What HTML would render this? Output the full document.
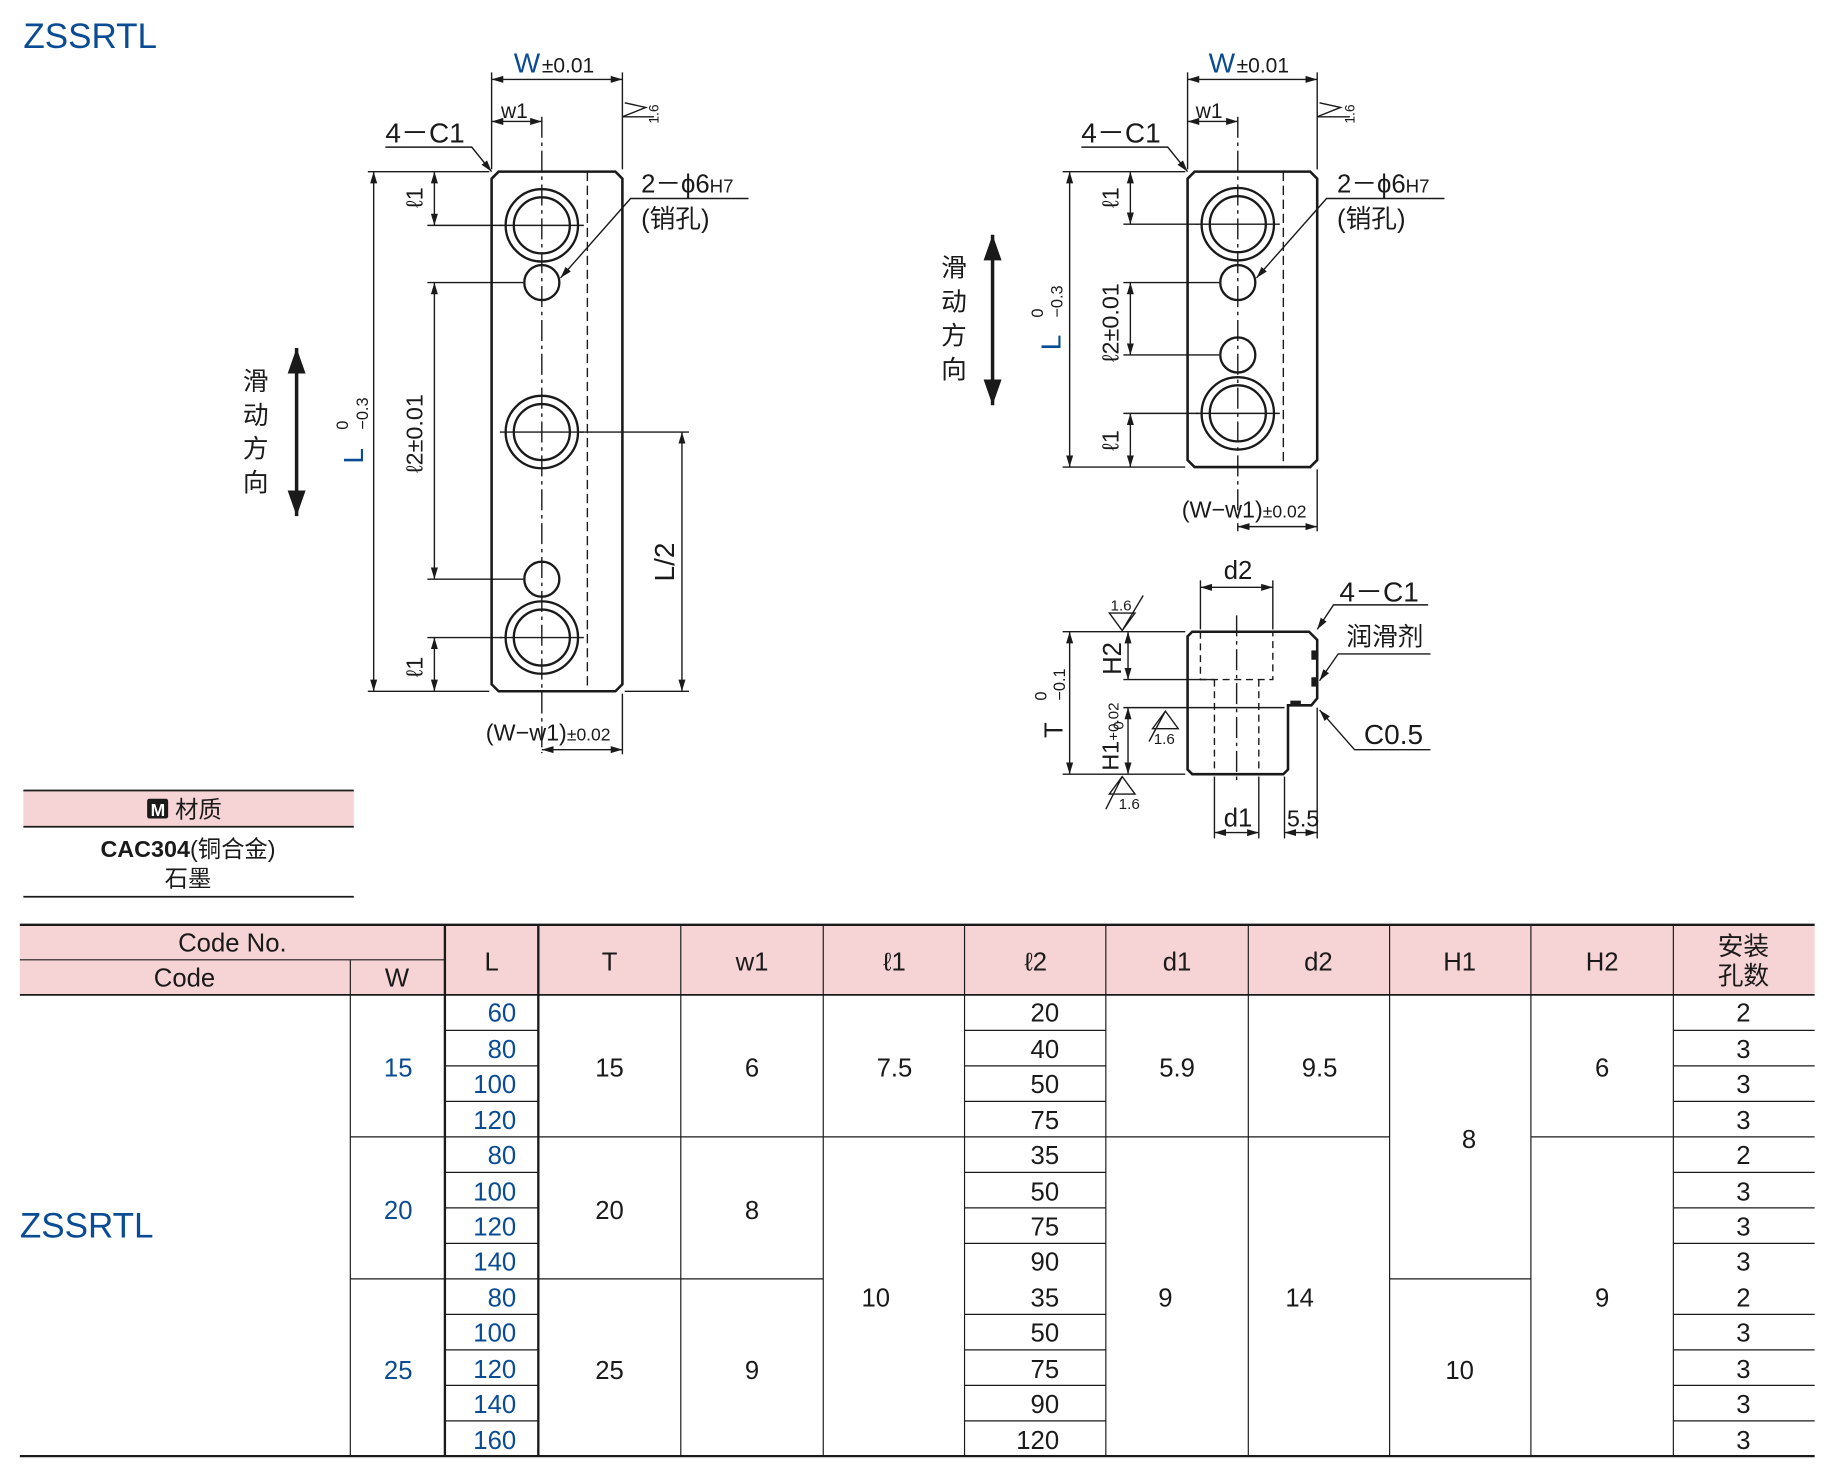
<!DOCTYPE html>
<html><head><meta charset="utf-8"><style>
html,body{margin:0;padding:0;background:#fff}
svg{display:block}
text{font-family:"Liberation Sans","Noto Sans CJK SC",sans-serif;fill:#1a1a1a}
.b, .b text{fill:#0a4c94}
</style></head><body>
<svg width="1831" height="1472" viewBox="0 0 1568 1260.6" preserveAspectRatio="none" xmlns="http://www.w3.org/2000/svg">
<defs>
<marker id="a" viewBox="0 0 10 10" refX="10" refY="5" markerWidth="10" markerHeight="10" orient="auto-start-reverse" markerUnits="userSpaceOnUse"><path d="M0,2 L10,5 L0,8z" fill="#1a1a1a"/></marker>
<marker id="big" viewBox="0 0 10 10" refX="10" refY="5" markerWidth="22" markerHeight="22" orient="auto-start-reverse" markerUnits="userSpaceOnUse"><path d="M0,1.5 L10,5 L0,8.5z" fill="#1a1a1a"/></marker>
</defs>
<text x="20" y="41" font-size="30" class="b">ZSSRTL</text>

<!-- LEFT DRAWING -->
<g stroke="#1a1a1a" fill="none" stroke-width="1.2">
<path d="M427,147 H527 L533,153 V586 L527,592 H427 L421,586 V153 Z" stroke-width="2.2"/>
<line x1="503" y1="147" x2="503" y2="592" stroke-dasharray="8,4"/>
<line x1="464" y1="100" x2="464" y2="645" stroke-dasharray="18,4,3,4"/>
<circle cx="464" cy="193" r="31" stroke-width="2"/><circle cx="464" cy="193" r="24" stroke-width="2"/>
<circle cx="464" cy="370" r="31" stroke-width="2"/><circle cx="464" cy="370" r="24" stroke-width="2"/>
<circle cx="464" cy="546" r="31" stroke-width="2"/><circle cx="464" cy="546" r="24" stroke-width="2"/>
<circle cx="464" cy="242" r="15" stroke-width="2"/><circle cx="464" cy="496" r="15" stroke-width="2"/>
<line x1="428" y1="193" x2="500" y2="193"/><line x1="428" y1="370" x2="500" y2="370"/><line x1="428" y1="546" x2="500" y2="546"/>
<line x1="421" y1="62" x2="421" y2="145"/><line x1="533" y1="62" x2="533" y2="145"/>
<line x1="421" y1="68" x2="533" y2="68" marker-start="url(#a)" marker-end="url(#a)"/>
<line x1="421" y1="104" x2="464" y2="104" marker-start="url(#a)" marker-end="url(#a)"/>
<line x1="315" y1="147" x2="419" y2="147"/><line x1="315" y1="592" x2="419" y2="592"/>
<line x1="320" y1="147" x2="320" y2="592" marker-start="url(#a)" marker-end="url(#a)"/>
<line x1="366" y1="193" x2="430" y2="193"/><line x1="366" y1="242" x2="448" y2="242"/>
<line x1="372" y1="147" x2="372" y2="193" marker-start="url(#a)" marker-end="url(#a)"/>
<line x1="372" y1="242" x2="372" y2="496" marker-start="url(#a)" marker-end="url(#a)"/>
<line x1="366" y1="496" x2="448" y2="496"/><line x1="366" y1="546" x2="430" y2="546"/>
<line x1="372" y1="546" x2="372" y2="592" marker-start="url(#a)" marker-end="url(#a)"/>
<line x1="497" y1="370" x2="590" y2="370"/>
<line x1="584" y1="370" x2="584" y2="592" marker-start="url(#a)" marker-end="url(#a)"/>
<line x1="535" y1="592" x2="590" y2="592"/>
<line x1="533" y1="594" x2="533" y2="646"/>
<line x1="464" y1="642" x2="533" y2="642" marker-start="url(#a)" marker-end="url(#a)"/>
<polyline points="330,126 404,126 421,147" marker-end="url(#a)"/>
<polyline points="641,170 540,170 480,238" marker-end="url(#a)"/>
<path d="M533,100 l20,-8 l-18,-4" /><line x1="533" y1="100" x2="560" y2="100"/>
<line x1="254" y1="298" x2="254" y2="442" stroke-width="3" marker-start="url(#big)" marker-end="url(#big)"/>
</g>
<text x="440" y="62" font-size="24" class="b">W</text><text x="464" y="62" font-size="18">±0.01</text>
<text x="429" y="101" font-size="18">w1</text>
<text x="330" y="122" font-size="24">4－C1</text>
<text x="549" y="165" font-size="22">2－ϕ6<tspan font-size="16">H7</tspan></text>
<text x="549" y="195" font-size="22">(销孔)</text>
<text x="564" y="106" font-size="12" transform="rotate(-90 564 106)">1.6</text>
<g font-size="20">
<text transform="translate(362,178) rotate(-90)">ℓ1</text>
<text transform="translate(362,405) rotate(-90)">ℓ2±0.01</text>
<text transform="translate(362,580) rotate(-90)">ℓ1</text>
<text transform="translate(577,498) rotate(-90)" font-size="24">L/2</text>
<text transform="translate(311,397) rotate(-90)" class="b" font-size="24">L</text>
<text transform="translate(298,368) rotate(-90)" font-size="14">0</text>
<text transform="translate(315,368) rotate(-90)" font-size="14">−0.3</text>
</g>
<text x="416" y="634" font-size="20">(W−w1)<tspan font-size="15">±0.02</tspan></text>
<g font-size="22"><text x="208" y="334">滑</text><text x="208" y="363">动</text><text x="208" y="392">方</text><text x="208" y="421">向</text></g>

<!-- RIGHT TOP DRAWING -->
<g stroke="#1a1a1a" fill="none" stroke-width="1.2">
<path d="M1023,147 H1122 L1128,153 V394 L1122,400 H1023 L1017,394 V153 Z" stroke-width="2.2"/>
<line x1="1099" y1="147" x2="1099" y2="400" stroke-dasharray="8,4"/>
<line x1="1060" y1="100" x2="1060" y2="455" stroke-dasharray="18,4,3,4"/>
<circle cx="1060" cy="192" r="31" stroke-width="2"/><circle cx="1060" cy="192" r="24" stroke-width="2"/>
<circle cx="1060" cy="354" r="31" stroke-width="2"/><circle cx="1060" cy="354" r="24" stroke-width="2"/>
<circle cx="1060" cy="242" r="15" stroke-width="2"/><circle cx="1060" cy="304" r="15" stroke-width="2"/>
<line x1="1024" y1="192" x2="1096" y2="192"/><line x1="1024" y1="354" x2="1096" y2="354"/>
<line x1="1017" y1="62" x2="1017" y2="145"/><line x1="1128" y1="62" x2="1128" y2="145"/>
<line x1="1017" y1="68" x2="1128" y2="68" marker-start="url(#a)" marker-end="url(#a)"/>
<line x1="1017" y1="104" x2="1060" y2="104" marker-start="url(#a)" marker-end="url(#a)"/>
<line x1="910" y1="147" x2="1015" y2="147"/><line x1="910" y1="400" x2="1015" y2="400"/>
<line x1="916" y1="147" x2="916" y2="400" marker-start="url(#a)" marker-end="url(#a)"/>
<line x1="962" y1="192" x2="1026" y2="192"/><line x1="962" y1="242" x2="1044" y2="242"/>
<line x1="962" y1="304" x2="1044" y2="304"/><line x1="962" y1="354" x2="1026" y2="354"/>
<line x1="968" y1="147" x2="968" y2="192" marker-start="url(#a)" marker-end="url(#a)"/>
<line x1="968" y1="242" x2="968" y2="304" marker-start="url(#a)" marker-end="url(#a)"/>
<line x1="968" y1="354" x2="968" y2="400" marker-start="url(#a)" marker-end="url(#a)"/>
<line x1="1128" y1="402" x2="1128" y2="455"/>
<line x1="1060" y1="451" x2="1128" y2="451" marker-start="url(#a)" marker-end="url(#a)"/>
<polyline points="926,126 1000,126 1017,147" marker-end="url(#a)"/>
<polyline points="1237,170 1136,170 1076,238" marker-end="url(#a)"/>
<path d="M1128,100 l20,-8 l-18,-4" /><line x1="1128" y1="100" x2="1156" y2="100"/>
<line x1="850" y1="201" x2="850" y2="347" stroke-width="3" marker-start="url(#big)" marker-end="url(#big)"/>
</g>
<text x="1035" y="62" font-size="24" class="b">W</text><text x="1059" y="62" font-size="18">±0.01</text>
<text x="1024" y="101" font-size="18">w1</text>
<text x="926" y="122" font-size="24">4－C1</text>
<text x="1145" y="165" font-size="22">2－ϕ6<tspan font-size="16">H7</tspan></text>
<text x="1145" y="195" font-size="22">(销孔)</text>
<text x="1160" y="106" font-size="12" transform="rotate(-90 1160 106)">1.6</text>
<g font-size="20">
<text transform="translate(958,178) rotate(-90)">ℓ1</text>
<text transform="translate(958,310) rotate(-90)">ℓ2±0.01</text>
<text transform="translate(958,386) rotate(-90)">ℓ1</text>
<text transform="translate(908,300) rotate(-90)" class="b" font-size="24">L</text>
<text transform="translate(893,272) rotate(-90)" font-size="14">0</text>
<text transform="translate(910,272) rotate(-90)" font-size="14">−0.3</text>
</g>
<text x="1012" y="443" font-size="20">(W−w1)<tspan font-size="15">±0.02</tspan></text>
<g font-size="22"><text x="806" y="237">滑</text><text x="806" y="266">动</text><text x="806" y="295">方</text><text x="806" y="324">向</text></g>

<!-- SIDE VIEW -->
<g stroke="#1a1a1a" fill="none" stroke-width="1.2">
<path d="M1021,541 H1121 L1128,548 V598 L1123,604 H1103 V659 L1099,663 H1021 L1017,659 V545 Z" stroke-width="2.2"/>
<path d="M1028,541 V582 H1090 V541" stroke-dasharray="6,4"/>
<path d="M1040,582 V663 M1078,582 V663" stroke-dasharray="6,4"/>
<line x1="1059" y1="527" x2="1059" y2="668" stroke-dasharray="18,4,3,4"/>
<line x1="910" y1="541" x2="1015" y2="541"/><line x1="962" y1="582" x2="1040" y2="582"/>
<line x1="962" y1="606" x2="1100" y2="606"/><line x1="910" y1="663" x2="1015" y2="663"/>
<line x1="916" y1="541" x2="916" y2="663" marker-start="url(#a)" marker-end="url(#a)"/>
<line x1="966" y1="541" x2="966" y2="582" marker-start="url(#a)" marker-end="url(#a)"/>
<line x1="966" y1="606" x2="966" y2="663" marker-start="url(#a)" marker-end="url(#a)"/>
<line x1="1028" y1="497" x2="1028" y2="539"/><line x1="1090" y1="497" x2="1090" y2="539"/>
<line x1="1028" y1="503" x2="1090" y2="503" marker-start="url(#a)" marker-end="url(#a)"/>
<line x1="1040" y1="665" x2="1040" y2="718"/><line x1="1078" y1="665" x2="1078" y2="718"/>
<line x1="1040" y1="713" x2="1078" y2="713" marker-start="url(#a)" marker-end="url(#a)"/>
<line x1="1100" y1="665" x2="1100" y2="718"/><line x1="1128" y1="606" x2="1128" y2="718"/>
<line x1="1100" y1="713" x2="1128" y2="713" marker-start="url(#a)" marker-end="url(#a)"/>
<polyline points="1223,518 1142,518 1128,539" marker-end="url(#a)"/>
<polyline points="1225,560 1146,560 1130,583" marker-end="url(#a)"/>
<polyline points="1225,642 1160,642 1130,608" marker-end="url(#a)"/>
<path d="M950,525 h22 l-11,15 z M961,540 l18,-30"/>
<path d="M987,624 h22 l-11,-15 z M998,609 l-14,26"/>
<path d="M950,680 h22 l-11,-15 z M961,665 l-14,28"/>
</g>
<g fill="#1a1a1a"><rect x="1123" y="557" width="5" height="8"/><rect x="1123" y="580" width="5" height="8"/><rect x="1105" y="600" width="9" height="5"/></g>
<text x="1048" y="496" font-size="22">d2</text>
<text x="1048" y="708" font-size="22">d1</text>
<text x="1102" y="708" font-size="20">5.5</text>
<text x="1147" y="515" font-size="24">4－C1</text>
<text x="1153" y="553" font-size="22">润滑剂</text>
<text x="1168" y="637" font-size="24">C0.5</text>
<text x="951" y="523" font-size="13">1.6</text>
<text x="988" y="637" font-size="13">1.6</text>
<text x="958" y="693" font-size="13">1.6</text>
<text transform="translate(960,578) rotate(-90)" font-size="22">H2</text>
<text transform="translate(958,660) rotate(-90)" font-size="20">H1<tspan font-size="13">+0.02</tspan></text>
<text transform="translate(962,625) rotate(-90)" font-size="13">0</text>
<text transform="translate(910,632) rotate(-90)" font-size="22">T</text>
<text transform="translate(896,600) rotate(-90)" font-size="14">0</text>
<text transform="translate(912,600) rotate(-90)" font-size="14">−0.1</text>

<!-- MATERIAL -->
<rect x="20" y="677" width="283" height="31" fill="#f6d3d5"/>
<line x1="20" y1="677" x2="303" y2="677" stroke="#1a1a1a" stroke-width="1.5"/>
<line x1="20" y1="708" x2="303" y2="708" stroke="#1a1a1a" stroke-width="1.5"/>
<line x1="20" y1="768" x2="303" y2="768" stroke="#1a1a1a" stroke-width="1.5"/>
<rect x="126" y="684" width="18" height="17" rx="2" fill="#1a1a1a"/>
<text x="129" y="699" font-size="15" style="fill:#fff" font-weight="bold">M</text>
<text x="150" y="700" font-size="20">材质</text>
<text x="161" y="734" font-size="20" text-anchor="middle"><tspan font-weight="bold">CAC304</tspan>(铜合金)</text>
<text x="161" y="759" font-size="20" text-anchor="middle">石墨</text>

<!-- TABLE -->
<rect x="17" y="792" width="1537" height="60" fill="#f6d3d5"/>
<g stroke="#1a1a1a" stroke-width="1">
<line x1="17" y1="792" x2="1554" y2="792" stroke-width="2"/>
<line x1="17" y1="852" x2="1554" y2="852" stroke-width="1.5"/>
<line x1="17" y1="1247" x2="1554" y2="1247" stroke-width="2"/>
<line x1="17" y1="822" x2="381" y2="822"/>
<line x1="300" y1="822" x2="300" y2="1247"/>
<line x1="381" y1="792" x2="381" y2="1247" stroke-width="2"/>
<line x1="461" y1="792" x2="461" y2="1247" stroke-width="2"/>
<line x1="583" y1="792" x2="583" y2="1247"/><line x1="705" y1="792" x2="705" y2="1247"/>
<line x1="826" y1="792" x2="826" y2="1247"/><line x1="947" y1="792" x2="947" y2="1247"/>
<line x1="1069" y1="792" x2="1069" y2="1247"/><line x1="1190" y1="792" x2="1190" y2="1247"/>
<line x1="1311" y1="792" x2="1311" y2="1247"/><line x1="1433" y1="792" x2="1433" y2="1247"/>
<path d="M381,882.4h80M381,912.8h80M381,943.2h80M381,1004h80M381,1034.4h80M381,1064.8h80M381,1125.6h80M381,1156h80M381,1186.4h80M381,1216.8h80"/>
<path d="M826,882.4h121M826,912.8h121M826,943.2h121M826,1004h121M826,1034.4h121M826,1064.8h121M826,1125.6h121M826,1156h121M826,1186.4h121M826,1216.8h121"/>
<path d="M1433,882.4h121M1433,912.8h121M1433,943.2h121M1433,1004h121M1433,1034.4h121M1433,1064.8h121M1433,1125.6h121M1433,1156h121M1433,1186.4h121M1433,1216.8h121"/>
<path d="M300,973.6H1190M1311,973.6H1554M300,1095.2H705M1190,1095.2H1311"/>
</g>
<g font-size="22" text-anchor="middle">
<text x="199" y="815">Code No.</text><text x="158" y="845">Code</text><text x="340" y="845">W</text>
<text x="421" y="831">L</text><text x="522" y="831">T</text><text x="644" y="831">w1</text>
<text x="766" y="831">ℓ1</text><text x="887" y="831">ℓ2</text><text x="1008" y="831">d1</text>
<text x="1129" y="831">d2</text><text x="1250" y="831">H1</text><text x="1372" y="831">H2</text>
<text x="1493" y="818">安装</text><text x="1493" y="843">孔数</text>
</g>
<text x="17" y="1060" font-size="30" class="b">ZSSRTL</text>
<g font-size="22" text-anchor="middle" class="b">
<text x="341" y="922">15</text><text x="341" y="1044">20</text><text x="341" y="1181">25</text>
</g>
<g font-size="22" text-anchor="end" class="b">
<text x="442" y="875">60</text><text x="442" y="906">80</text><text x="442" y="936">100</text><text x="442" y="967">120</text>
<text x="442" y="997">80</text><text x="442" y="1028">100</text><text x="442" y="1058">120</text><text x="442" y="1088">140</text>
<text x="442" y="1119">80</text><text x="442" y="1149">100</text><text x="442" y="1180">120</text><text x="442" y="1210">140</text><text x="442" y="1241">160</text>
</g>
<g font-size="22" text-anchor="end">
<text x="907" y="875">20</text><text x="907" y="906">40</text><text x="907" y="936">50</text><text x="907" y="967">75</text>
<text x="907" y="997">35</text><text x="907" y="1028">50</text><text x="907" y="1058">75</text><text x="907" y="1088">90</text>
<text x="907" y="1119">35</text><text x="907" y="1149">50</text><text x="907" y="1180">75</text><text x="907" y="1210">90</text><text x="907" y="1241">120</text>
</g>
<g font-size="22" text-anchor="middle">
<text x="1493" y="875">2</text><text x="1493" y="906">3</text><text x="1493" y="936">3</text><text x="1493" y="967">3</text>
<text x="1493" y="997">2</text><text x="1493" y="1028">3</text><text x="1493" y="1058">3</text><text x="1493" y="1088">3</text>
<text x="1493" y="1119">2</text><text x="1493" y="1149">3</text><text x="1493" y="1180">3</text><text x="1493" y="1210">3</text><text x="1493" y="1241">3</text>
<text x="522" y="922">15</text><text x="522" y="1044">20</text><text x="522" y="1181">25</text>
<text x="644" y="922">6</text><text x="644" y="1044">8</text><text x="644" y="1181">9</text>
<text x="766" y="922">7.5</text><text x="750" y="1119">10</text>
<text x="1008" y="922">5.9</text><text x="998" y="1119">9</text>
<text x="1130" y="922">9.5</text><text x="1113" y="1119">14</text>
<text x="1258" y="983">8</text><text x="1250" y="1181">10</text>
<text x="1372" y="922">6</text><text x="1372" y="1119">9</text>
</g>
</svg>
</body></html>
